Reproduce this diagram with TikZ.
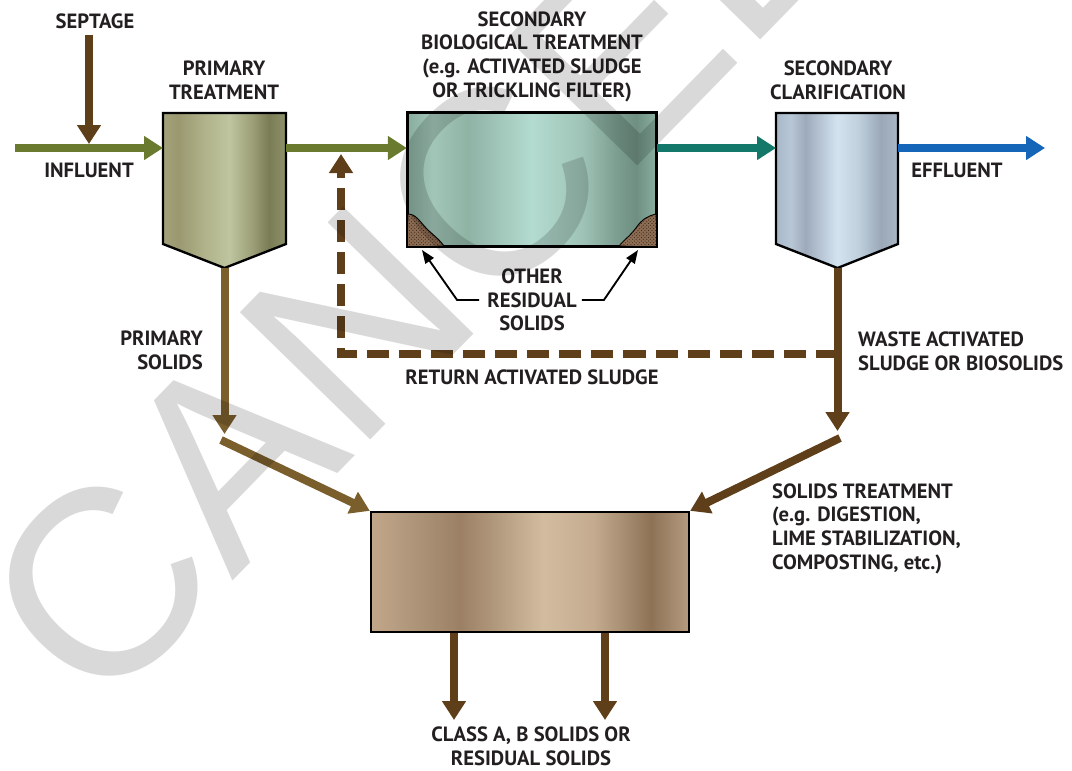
\documentclass[tikz,border=0pt]{standalone}
\usepackage{fontspec}
\setmainfont{PT Sans}
\newfontfamily\wmfont{Liberation Sans}
\usetikzlibrary{arrows.meta,patterns}

\definecolor{txt}{HTML}{231F20}
\definecolor{olive}{HTML}{6A7B30}
\definecolor{mud}{HTML}{5F3F1A}
\definecolor{primmud}{HTML}{7A5E2C}
\definecolor{teal}{HTML}{13786A}
\definecolor{effblue}{HTML}{1565B8}
\definecolor{sludge}{HTML}{8F6E56}
\definecolor{sludgedot}{HTML}{3E2816}

% primary tank
\definecolor{prA}{HTML}{A3A27C}\definecolor{prB}{HTML}{9A986F}\definecolor{prC}{HTML}{B0B38B}
\definecolor{prD}{HTML}{BEC59F}\definecolor{prE}{HTML}{9DA078}\definecolor{prF}{HTML}{7A7C55}
\definecolor{prG}{HTML}{8E9169}
\pgfdeclarehorizontalshading{primshade}{100bp}{color(0bp)=(prA); color(25bp)=(prA);
  color(31bp)=(prB); color(42bp)=(prC); color(52bp)=(prD); color(61bp)=(prE);
  color(68bp)=(prF); color(75bp)=(prG); color(100bp)=(prG)}
% secondary biological tank
\definecolor{biA}{HTML}{89AD9F}\definecolor{biB}{HTML}{A2C6B8}\definecolor{biC}{HTML}{8FB3A5}
\definecolor{biD}{HTML}{B4DBD0}\definecolor{biE}{HTML}{9FC4B7}\definecolor{biF}{HTML}{7C9E90}
\definecolor{biG}{HTML}{6E8F82}\definecolor{biH}{HTML}{8AAE9F}
\pgfdeclarehorizontalshading{bioshade}{100bp}{color(0bp)=(biA); color(25bp)=(biA);
  color(30bp)=(biB); color(37bp)=(biC); color(50bp)=(biD); color(60bp)=(biE);
  color(67bp)=(biF); color(71bp)=(biG); color(75bp)=(biH); color(100bp)=(biH)}
% secondary clarifier
\definecolor{clA}{HTML}{A9B8C8}\definecolor{clB}{HTML}{B8C7D6}\definecolor{clC}{HTML}{9DAABB}
\definecolor{clD}{HTML}{D3E3EF}\definecolor{clE}{HTML}{BFCFDC}\definecolor{clF}{HTML}{9AA8B8}
\definecolor{clG}{HTML}{A8B6C5}
\pgfdeclarehorizontalshading{clarshade}{100bp}{color(0bp)=(clA); color(25bp)=(clA);
  color(31bp)=(clB); color(37bp)=(clC); color(50bp)=(clD); color(59bp)=(clE);
  color(68bp)=(clF); color(75bp)=(clG); color(100bp)=(clG)}
% solids treatment
\definecolor{soA}{HTML}{C2A68A}\definecolor{soB}{HTML}{B39A7E}\definecolor{soC}{HTML}{9B8065}
\definecolor{soD}{HTML}{B39B7F}\definecolor{soE}{HTML}{D2BCA0}\definecolor{soF}{HTML}{C4AB90}
\definecolor{soG}{HTML}{8D7256}\definecolor{soH}{HTML}{B59B80}
\pgfdeclarehorizontalshading{solshade}{100bp}{color(0bp)=(soA); color(25bp)=(soA);
  color(30bp)=(soB); color(39bp)=(soC); color(45bp)=(soD); color(52bp)=(soE);
  color(60bp)=(soF); color(69bp)=(soG); color(75bp)=(soH); color(100bp)=(soH)}

\newcommand\lblfont{\fontsize{17.6}{20.2}\selectfont\bfseries}

\begin{document}
\begin{tikzpicture}[x=0.03cm,y=-0.03cm,>={Triangle[length=0.57cm,width=0.69cm]}]
	\tikzset{lbl/.style={font=\lblfont,text=txt,align=center,inner sep=0pt},
		flow/.style={->,line width=0.24cm},
		tank/.style={draw=black,line width=2pt},
		pointer/.style={-{Triangle[length=0.4cm,width=0.3cm]},line width=1.6pt,black},
		pile/.style={fill=sludge,postaction={pattern=crosshatch dots,pattern color=sludgedot},draw=black,line width=0.8pt}}
	\useasboundingbox (0,0) rectangle (1072,770);
	% tanks
	\draw[tank,shading=primshade] (163,113) -- (286,113) -- (286,244) -- (224.5,268) -- (163,244) -- cycle;
	\draw[tank,shading=clarshade] (776,113) -- (898,113) -- (898,244) -- (837.5,268) -- (776,244) -- cycle;
	\coordinate (prim-w) at (163,148); \coordinate (prim-e) at (286,148); \coordinate (prim-b) at (224.5,268);
	\coordinate (clar-w) at (776,148); \coordinate (clar-e) at (898,148); \coordinate (clar-b) at (837.5,268);
	\node[tank,shading=bioshade,minimum width=7.44cm,minimum height=3.99cm] (bio) at (532,179.5) {};
	\path[pile] (bio.south west) -- (408,214) .. controls (416,214) and (420,222) .. (427,229) .. controls (433,235) and (438,238) .. (444,246) -- cycle;
	\path[pile] (bio.south east) -- (656,214) .. controls (648,216) and (642,219) .. (636,228) .. controls (630,236) and (624,240) .. (619,246) -- cycle;
	\draw[tank] (bio.south west) rectangle (bio.north east);
	\node[tank,shading=solshade,minimum width=9.54cm,minimum height=3.6cm] (sol) at (530,572) {};
	% labels
	\node[lbl] (septage) at (95,21) {SEPTAGE};
	\node[lbl] (influent) at (89,170) {INFLUENT};
	\node[lbl] (primlbl) at (224,80) {PRIMARY\\TREATMENT};
	\node[lbl] (biolbl) at (532,56.5) {SECONDARY\\BIOLOGICAL TREATMENT\\(e.g. ACTIVATED SLUDGE\\OR TRICKLING FILTER)};
	\node[lbl] (clarlbl) at (838,80) {SECONDARY\\CLARIFICATION};
	\node[lbl] (effluent) at (957,170) {EFFLUENT};
	\node[lbl] (other) at (532,300) {OTHER\\RESIDUAL\\SOLIDS};
	\node[lbl,align=right,anchor=east] (primsol) at (203,350) {PRIMARY\\SOLIDS};
	\node[lbl] (retlbl) at (532,377) {RETURN ACTIVATED SLUDGE};
	\node[lbl,align=left,anchor=west] (waslbl) at (858,351) {WASTE ACTIVATED\\SLUDGE OR BIOSOLIDS};
	\node[lbl,align=left,anchor=west] (sollbl) at (772,528.5) {SOLIDS TREATMENT\\(e.g. DIGESTION,\\LIME STABILIZATION,\\COMPOSTING, etc.)};
	\node[lbl] (classlbl) at (531,746) {CLASS A, B SOLIDS OR\\RESIDUAL SOLIDS};
	% main flow
	\coordinate (inf) at (15,148); \coordinate (mix) at (89,148); \coordinate (eff) at (1045,148);
	\draw[flow,olive] (inf) -- (prim-w);
	\draw[flow,mud,shorten >=0.12cm] (mix |- septage.south) ++(0,6) -- (mix);
	\draw[flow,olive] (prim-e) -- (prim-e -| bio.west);
	\draw[flow,teal] (prim-e -| bio.east) -- (clar-w);
	\draw[flow,effblue] (clar-e) -- (eff);
	% return sludge
	\coordinate (ret-c) at (341,354); \coordinate (ret-tip) at (341,154);
	\draw[flow,mud,dash pattern=on 0.66cm off 0.3cm] (clar-b |- ret-c) -- (ret-c) -- (ret-tip);
	% solids
	\coordinate (ps-tip) at (224.5,434); \coordinate (ps-go) at (221,440);
	\coordinate (was-tip) at (837.5,431); \coordinate (was-go) at (840,438);
	\draw[flow,primmud] (prim-b) -- (ps-tip);
	\draw[flow,primmud] (ps-go) -- (sol.north west);
	\draw[flow,mud] (clar-b) -- (was-tip);
	\draw[flow,mud] (was-go) -- (sol.north east);
	\coordinate (out-a) at (454,720); \coordinate (out-b) at (605,720);
	\draw[flow,mud] (out-a |- sol.south) -- (out-a);
	\draw[flow,mud] (out-b |- sol.south) -- (out-b);
	% pointers to the residual solids
	\coordinate (pile-l) at (422,250); \coordinate (pile-r) at (638,250);
	\draw[pointer,shorten <=0.24cm] (other.west) -- ++(-30,0) -- (pile-l);
	\draw[pointer,shorten <=0.15cm] (other.east) -- ++(27,0) -- (pile-r);
	% watermark
	\node[font=\wmfont\fontsize{226}{226}\selectfont,text=black,text opacity=0.15,rotate=45.7,inner sep=0pt] (wm) at (537,139) {CANCELED};
\end{tikzpicture}
\end{document}
